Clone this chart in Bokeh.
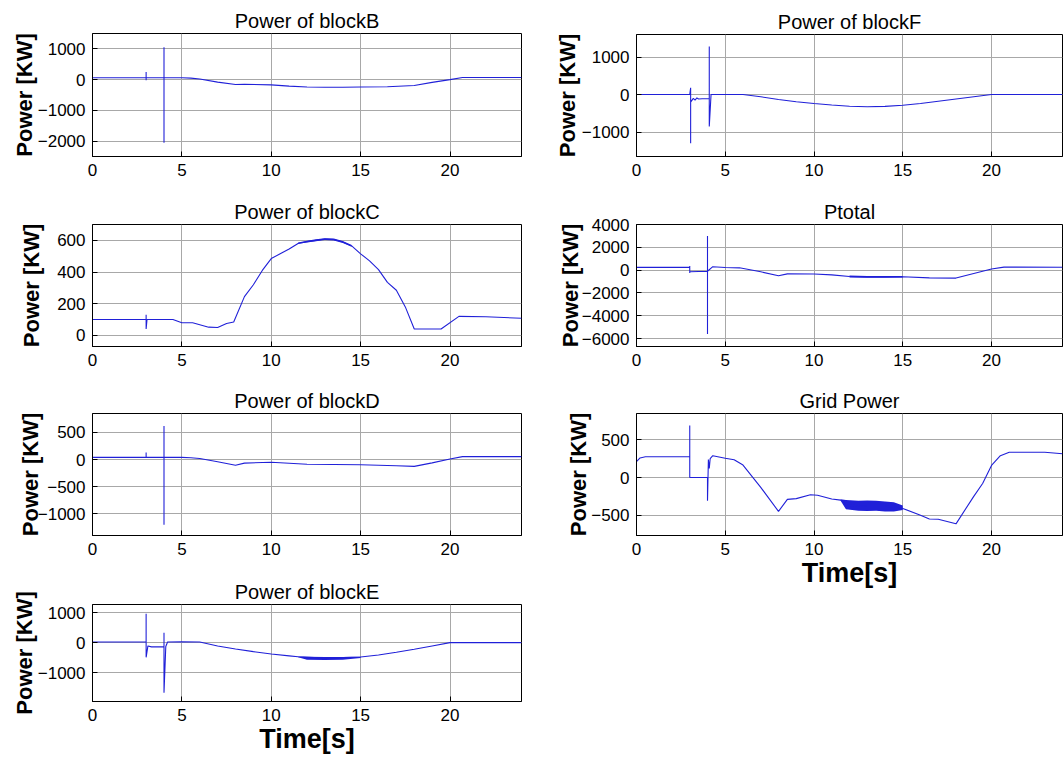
from bokeh.plotting import figure
from bokeh.layouts import row, column
from bokeh.models import Range1d, FixedTicker
from bokeh.embed import file_html
from bokeh.resources import INLINE

# ---------------- data ----------------
x_ticks = [0, 5, 10, 15, 20]

t_B = [0, 3.0, 3.0, 3.0, 3.0, 4.0, 4.0, 4.0, 4.0, 5.0, 5.5, 6.0, 7.0, 8.0, 8.5, 10.0, 11.0, 12.0, 13.0, 14.0, 15.0, 16.5, 18.0, 19.0, 20.0, 20.7, 22.0, 24.0]
p_B = [60, 60, 250, -20, 60, 60, 1050, -2050, 60, 60, 50, 20, -80, -160, -150, -170, -210, -240, -250, -250, -240, -230, -190, -90, 0, 70, 70, 70]

t_C = [0, 3.0, 3.0, 3.0, 3.05, 4.0, 4.0, 4.5, 5.0, 5.6, 6.5, 7.0, 7.5, 7.9, 8.5, 9.0, 9.5, 10.0, 10.5, 11.0, 11.5, 12.0, 12.5, 13.0, 13.5, 14.0, 14.5, 15.0, 15.5, 16.0, 16.5, 17.0, 17.5, 18.0, 19.5, 20.5, 22.0, 24.0]
p_C = [100, 100, 130, 40, 100, 100, 100, 100, 80, 80, 52, 50, 75, 85, 245, 320, 410, 485, 515, 545, 580, 592, 600, 608, 605, 590, 565, 515, 470, 415, 335, 285, 180, 40, 40, 120, 118, 108]
t_Cn = [11.5, 12.0, 12.5, 13.0, 13.5, 14.0, 14.5]
up_Cn = [586, 598, 607, 614, 611, 596, 570]
lo_Cn = [578, 586, 594, 602, 599, 584, 560]

t_D = [0, 3.0, 3.0, 3.0, 4.0, 4.0, 4.0, 4.0, 5.0, 5.5, 6.0, 7.0, 8.0, 8.5, 10.0, 12.0, 15.0, 17.0, 18.0, 19.0, 20.0, 20.7, 24.0]
p_D = [40, 40, 130, 40, 40, 620, -1200, 40, 40, 35, 20, -40, -105, -65, -50, -85, -95, -115, -125, -60, 10, 55, 55]

t_E = [0, 3.0, 3.0, 3.0, 3.1, 3.3, 4.0, 4.0, 4.0, 4.1, 4.2, 5.0, 6.0, 7.0, 8.0, 9.0, 10.0, 11.0, 11.5, 13.0, 15.0, 16.0, 17.0, 18.0, 19.0, 20.0, 24.0]
p_E = [30, 30, 970, -480, -100, -130, -130, 340, -1660, -120, 30, 40, 30, -100, -200, -290, -370, -430, -460, -500, -470, -400, -310, -210, -100, 10, 10]
t_En = [11.5, 12.0, 13.0, 14.0, 15.0]
up_En = [-450, -460, -470, -465, -460]
lo_En = [-480, -560, -570, -560, -500]

t_F = [0, 3.0, 3.05, 3.05, 3.05, 3.2, 3.3, 3.4, 3.5, 3.7, 4.0, 4.1, 4.1, 4.1, 4.2, 5.0, 6.0, 7.0, 8.0, 9.0, 10.0, 11.0, 12.0, 13.0, 14.0, 15.0, 16.0, 17.0, 18.0, 19.0, 20.0, 24.0]
p_F = [0, 0, 180, -1300, -200, -100, -150, -90, -120, -110, -110, -110, 1280, -850, 0, 0, 0, -60, -130, -190, -240, -280, -310, -325, -315, -285, -240, -180, -120, -60, 0, 0]

t_P = [0, 3.0, 3.0, 3.0, 3.0, 3.5, 4.0, 4.0, 4.0, 4.0, 4.3, 5.0, 5.8, 7.0, 8.0, 8.5, 10.0, 11.0, 12.0, 13.0, 14.0, 15.0, 16.5, 18.0, 19.0, 20.0, 20.7, 24.0]
p_P = [240, 240, 350, -250, -150, -120, -100, 3000, -5600, -100, 300, 230, 200, -150, -500, -330, -340, -420, -560, -600, -600, -580, -680, -700, -300, 100, 260, 250]
t_Pn = [12.0, 13.0, 14.0, 15.0]
up_Pn = [-480, -520, -520, -520]
lo_Pn = [-640, -680, -680, -640]

t_G = [0, 0.2, 0.5, 1.0, 3.0, 3.0, 3.0, 4.0, 4.0, 4.05, 4.1, 4.15, 4.3, 5.0, 5.5, 6.0, 7.0, 8.0, 8.5, 9.0, 9.8, 10.2, 11.0, 11.5, 12.0, 13.0, 14.0, 15.0, 16.0, 16.5, 17.0, 18.0, 19.0, 19.5, 20.0, 20.5, 21.0, 23.0, 24.0]
p_G = [210, 260, 275, 275, 275, 690, 0, 0, -310, 240, 120, 250, 290, 255, 235, 165, -130, -450, -290, -280, -228, -235, -285, -300, -370, -380, -380, -410, -500, -550, -555, -615, -250, -80, 160, 290, 335, 335, 315]
t_Gn = [11.5, 11.8, 12.5, 13.0, 13.5, 14.0, 14.5, 15.0]
up_Gn = [-290, -300, -310, -305, -310, -320, -330, -370]
lo_Gn = [-310, -420, -440, -445, -440, -450, -450, -430]

LINE = "#2020d8"
FONT = "Liberation Sans"


def make_fig(title, yr, yticks, t, v, top, fh, bottom, left, fw, right,
             label_standoff, xlabel=None, band=None):
    p = figure(frame_width=fw, frame_height=fh,
               min_border_left=left, min_border_right=right,
               min_border_top=top, min_border_bottom=bottom,
               x_range=Range1d(0, 24), y_range=Range1d(*yr),
               output_backend="svg", toolbar_location=None)
    p.title.text = title
    p.title.text_font = FONT
    p.title.text_font_size = "20px"
    p.title.text_font_style = "normal"
    p.title.text_color = "black"
    p.title.align = "center"
    p.title.standoff = 3
    p.outline_line_color = "black"
    p.outline_line_width = 1
    p.background_fill_color = "white"
    p.border_fill_color = "white"
    p.grid.grid_line_color = "#a8a8a8"
    p.grid.grid_line_width = 1
    p.xaxis.ticker = FixedTicker(ticks=x_ticks)
    p.yaxis.ticker = FixedTicker(ticks=yticks)
    for ax in (p.xaxis[0], p.yaxis[0]):
        ax.major_tick_in = 5
        ax.major_tick_out = 0
        ax.minor_tick_line_color = None
        ax.axis_line_color = "black"
        ax.major_tick_line_color = "black"
        ax.major_label_text_font = FONT
        ax.major_label_text_font_size = "17px"
        ax.major_label_text_color = "black"
    p.yaxis.major_label_standoff = 7
    p.xaxis.major_label_standoff = 7
    p.yaxis.axis_label = "Power [KW]"
    p.yaxis.axis_label_text_font = FONT
    p.yaxis.axis_label_text_font_size = "22px"
    p.yaxis.axis_label_text_font_style = "bold"
    p.yaxis.axis_label_text_color = "black"
    p.yaxis.axis_label_standoff = label_standoff
    if xlabel:
        p.xaxis.axis_label = xlabel
        p.xaxis.axis_label_text_font = FONT
        p.xaxis.axis_label_text_font_size = "27px"
        p.xaxis.axis_label_text_font_style = "bold"
        p.xaxis.axis_label_text_color = "black"
        p.xaxis.axis_label_standoff = 0
    if band is not None:
        p.varea(x=band[0], y1=band[1], y2=band[2], fill_color=LINE)
    p.line(t, v, line_color=LINE, line_width=1.1)
    return p


L, LW, LR = 92, 429, 11
R, RW, RR = 104, 426, 2

fB = make_fig("Power of blockB", (-2500, 1500), [-2000, -1000, 0, 1000], t_B, p_B, 33, 123, 34, L, LW, LR, -2)
fC = make_fig("Power of blockC", (-70, 700), [0, 200, 400, 600], t_C, p_C, 34, 122, 33, L, LW, LR, 10,
              band=(t_Cn, up_Cn, lo_Cn))
fD = make_fig("Power of blockD", (-1400, 850), [-1000, -500, 0, 500], t_D, p_D, 34, 122, 32, L, LW, LR, -8)
fE = make_fig("Power of blockE", (-1950, 1280), [-1000, 0, 1000], t_E, p_E, 37, 97, 57, L, LW, LR, -2,
              xlabel="Time[s]", band=(t_En, up_En, lo_En))

fF = make_fig("Power of blockF", (-1650, 1600), [-1000, 0, 1000], t_F, p_F, 34, 122, 34, R, RW, RR, -1)
fP = make_fig("Ptotal", (-6700, 4000), [-6000, -4000, -2000, 0, 2000, 4000], t_P, p_P, 34, 122, 33, R, RW, RR, -4,
              band=(t_Pn, up_Pn, lo_Pn))
fG = make_fig("Grid Power", (-770, 850), [-500, 0, 500], t_G, p_G, 34, 122, 65, R, RW, RR, -3,
              xlabel="Time[s]", band=(t_Gn, up_Gn, lo_Gn))

layout = row(column(fB, fC, fD, fE, spacing=0), column(fF, fP, fG, spacing=0), spacing=0)

open("out.html", "w").write(file_html(layout, INLINE))
